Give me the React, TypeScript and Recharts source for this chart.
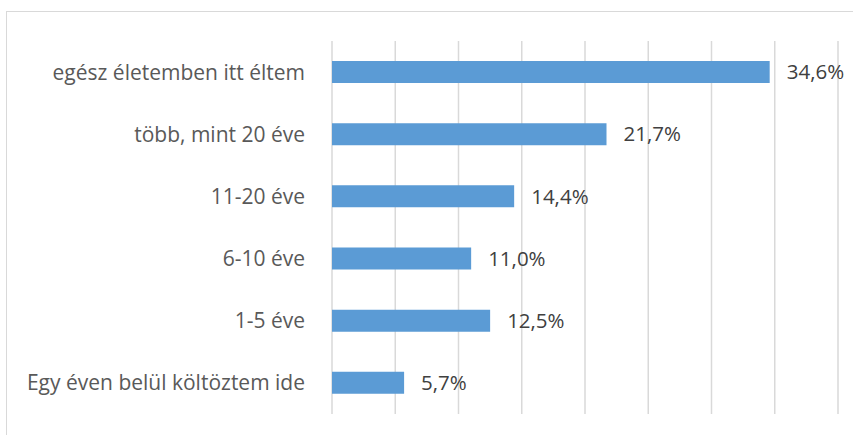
import { BarChart, Bar, XAxis, YAxis, CartesianGrid, LabelList } from 'recharts';

const categories = [
  'egész életemben itt éltem',
  'több, mint 20 éve',
  '11-20 éve',
  '6-10 éve',
  '1-5 éve',
  'Egy éven belül költöztem ide',
];
const shares = [34.6, 21.7, 14.4, 11.0, 12.5, 5.7];
const xTicks = [0, 5, 10, 15, 20, 25, 30, 35, 40];

const data = categories.map((name, i) => ({ name, value: shares[i] }));

const fmt = (v: any) => `${Number(v).toFixed(1).replace('.', ',')}%`;

export default function App() {
  return (
    <div style={{ position: 'absolute', left: 0, top: 0, width: 853, height: 435, overflow: 'hidden', background: '#fff' }}>
      <div
        style={{
          position: 'absolute',
          left: 6,
          top: 11,
          width: 870,
          height: 450,
          border: '1.5px solid #D9D9D9',
          boxSizing: 'border-box',
        }}
      />
      <BarChart
        width={853}
        height={435}
        data={data}
        layout="vertical"
        margin={{ top: 41, right: 15, bottom: 21, left: 0 }}
        style={{ position: 'absolute', left: 0, top: 0, fontFamily: '"Open Sans", sans-serif' }}
      >
        <CartesianGrid horizontal={false} stroke="#D9D9D9" strokeWidth={1.5} />
        <XAxis type="number" domain={[0, 40]} ticks={xTicks} hide />
        <YAxis
          type="category"
          dataKey="name"
          width={332}
          axisLine={false}
          tickLine={false}
          tickSize={0}
          tickMargin={27}
          tick={{ fill: '#595959', fontSize: 21 }}
        />
        <Bar dataKey="value" fill="#5B9BD5" barSize={22} isAnimationActive={false}>
          <LabelList dataKey="value" position="right" offset={17} formatter={fmt} fill="#404040" fontSize={20.5} />
        </Bar>
      </BarChart>
    </div>
  );
}
